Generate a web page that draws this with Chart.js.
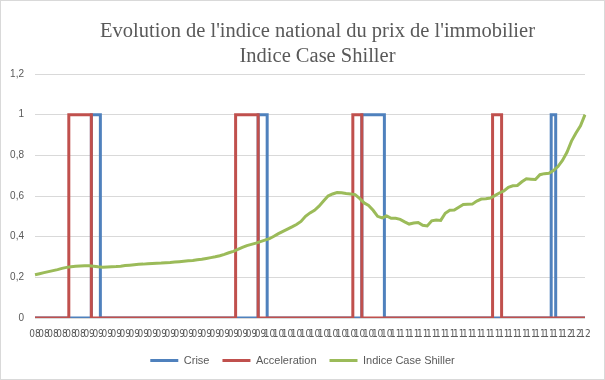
<!DOCTYPE html>
<html>
<head>
<meta charset="utf-8">
<script src="https://cdn.jsdelivr.net/npm/chart.js@4.4.1/dist/chart.umd.min.js"></script>
<style>
  html, body { margin: 0; padding: 0; background: #fff; }
</style>
</head>
<body>
<canvas id="immoChart" width="605" height="380"></canvas>
<script>
// tick labels of the category axis (one every second point)
var tickLabels = [
	'08', '08', '08', '08', '08', '08',
	'09', '09', '09', '09', '09', '09', '09', '09', '09', '09',
	'09', '09', '09', '09', '09', '09', '09', '09', '09', '09',
	'10', '10', '10', '10', '10', '10', '10', '10', '10', '10', '10', '10', '10', '10',
	'11', '11', '11', '11', '11', '11', '11', '11', '11', '11',
	'11', '11', '11', '11', '11', '11', '11', '11', '11',
	'12', '12', '12'
];

var crise = [
	0, 0, 0, 0, 0, 0, 0, 0, 0, 0,
	0, 0, 0, 1, 1, 0, 0, 0, 0, 0,
	0, 0, 0, 0, 0, 0, 0, 0, 0, 0,
	0, 0, 0, 0, 0, 0, 0, 0, 0, 0,
	0, 0, 0, 0, 0, 0, 0, 0, 0, 0,
	1, 1, 0, 0, 0, 0, 0, 0, 0, 0,
	0, 0, 0, 0, 0, 0, 0, 0, 0, 0,
	0, 0, 0, 1, 1, 1, 1, 1, 0, 0,
	0, 0, 0, 0, 0, 0, 0, 0, 0, 0,
	0, 0, 0, 0, 0, 0, 0, 0, 0, 0,
	0, 0, 0, 0, 0, 0, 0, 0, 0, 0,
	0, 0, 0, 0, 0, 1, 0, 0, 0, 0,
	0, 0, 0
];

var acceleration = [
	0, 0, 0, 0, 0, 0, 0, 0, 1, 1,
	1, 1, 1, 0, 0, 0, 0, 0, 0, 0,
	0, 0, 0, 0, 0, 0, 0, 0, 0, 0,
	0, 0, 0, 0, 0, 0, 0, 0, 0, 0,
	0, 0, 0, 0, 0, 1, 1, 1, 1, 1,
	0, 0, 0, 0, 0, 0, 0, 0, 0, 0,
	0, 0, 0, 0, 0, 0, 0, 0, 0, 0,
	0, 1, 1, 0, 0, 0, 0, 0, 0, 0,
	0, 0, 0, 0, 0, 0, 0, 0, 0, 0,
	0, 0, 0, 0, 0, 0, 0, 0, 0, 0,
	0, 0, 1, 1, 0, 0, 0, 0, 0, 0,
	0, 0, 0, 0, 0, 0, 0, 0, 0, 0,
	0, 0, 0
];

var caseShiller = [
	0.213, 0.218, 0.223, 0.228, 0.233, 0.238, 0.244, 0.249, 0.252, 0.254,
	0.256, 0.257, 0.257, 0.255, 0.252, 0.250, 0.251, 0.252, 0.253, 0.255,
	0.258, 0.260, 0.262, 0.264, 0.265, 0.267, 0.268, 0.269, 0.270, 0.272,
	0.273, 0.275, 0.277, 0.279, 0.281, 0.283, 0.286, 0.289, 0.293, 0.297,
	0.301, 0.306, 0.313, 0.321, 0.328, 0.337, 0.347, 0.356, 0.362, 0.368,
	0.376, 0.383, 0.390, 0.402, 0.415, 0.426, 0.437, 0.448, 0.460, 0.475,
	0.500, 0.517, 0.530, 0.550, 0.575, 0.600, 0.610, 0.617, 0.616, 0.612,
	0.610, 0.607, 0.588, 0.566, 0.554, 0.530, 0.500, 0.492, 0.502, 0.490,
	0.490, 0.485, 0.473, 0.462, 0.467, 0.470, 0.456, 0.453, 0.478, 0.482,
	0.480, 0.515, 0.530, 0.531, 0.545, 0.558, 0.559, 0.560, 0.575, 0.585,
	0.587, 0.590, 0.602, 0.615, 0.625, 0.643, 0.650, 0.652, 0.670, 0.685,
	0.683, 0.681, 0.705, 0.710, 0.712, 0.725, 0.745, 0.775, 0.815, 0.870,
	0.910, 0.945, 1.000
];

var categories = caseShiller.map(function(v, i) {
	return i % 2 === 0 ? tickLabels[i / 2] : '';
});

var textGrey = '#595959';

var chartBackground = {
	id: 'chartBackground',
	afterLayout: function(chart) {
		// the title sits a little right of the canvas centre
		if (chart.titleBlock) {
			chart.titleBlock.left += 30;
		}
	},
	beforeDraw: function(chart) {
		var ctx = chart.ctx;
		ctx.save();
		ctx.fillStyle = '#ffffff';
		ctx.fillRect(0, 0, chart.width, chart.height);
		ctx.strokeStyle = '#d9d9d9';
		ctx.lineWidth = 1;
		ctx.strokeRect(0.5, 0.5, chart.width - 1, chart.height - 1);
		ctx.restore();
	}
};

var immoChart = new Chart(document.getElementById('immoChart'), {
	type: 'line',
	data: {
		labels: categories,
		datasets: [{
			label: 'Crise',
			data: crise,
			borderColor: '#4f81bd',
			backgroundColor: '#4f81bd',
			borderWidth: 3,
			stepped: 'middle',
			pointRadius: 0,
			order: 2
		}, {
			label: 'Acceleration',
			data: acceleration,
			borderColor: '#c0504d',
			backgroundColor: '#c0504d',
			borderWidth: 3,
			stepped: 'middle',
			pointRadius: 0,
			order: 1
		}, {
			label: 'Indice Case Shiller',
			data: caseShiller,
			borderColor: '#9bbb59',
			backgroundColor: '#9bbb59',
			borderWidth: 3,
			pointRadius: 0,
			tension: 0,
			order: 0
		}]
	},
	options: {
		responsive: false,
		animation: false,
		layout: {
			padding: { left: 0, right: 0, top: 0, bottom: 4 }
		},
		scales: {
			x: {
				offset: false,
				grid: { display: false, drawTicks: false },
				border: { display: false },
				ticks: {
					autoSkip: false,
					maxRotation: 0,
					minRotation: 0,
					padding: 10,
					color: textGrey,
					font: { family: "'Liberation Sans Narrow', 'DejaVu Sans Condensed', 'Liberation Sans', sans-serif", size: 10 }
				},
				afterFit: function(scale) {
					scale.height = 24;
				}
			},
			y: {
				min: 0,
				max: 1.2,
				grid: { color: '#d9d9d9', drawTicks: false },
				border: { display: false },
				ticks: {
					stepSize: 0.2,
					padding: 11,
					color: textGrey,
					font: { family: "'Liberation Sans', sans-serif", size: 10 },
					callback: function(value) {
						return String(Math.round(value * 10) / 10).replace('.', ',');
					}
				},
				afterFit: function(scale) {
					scale.width = 35;
				}
			},
			// empty right margin so the plot ends where the reference does
			yRight: {
				position: 'right',
				grid: { display: false },
				border: { display: false },
				ticks: { display: false },
				afterFit: function(scale) {
					scale.width = 20;
				}
			}
		},
		plugins: {
			title: {
				display: true,
				text: ["Evolution de l'indice national du prix de l'immobilier", 'Indice Case Shiller'],
				color: textGrey,
				font: { family: "'Liberation Serif', serif", size: 20.5, weight: 'normal', lineHeight: 1.22 },
				padding: { top: 19, bottom: 5 }
			},
			legend: {
				position: 'bottom',
				labels: {
					boxWidth: 28,
					boxHeight: 3,
					padding: 13,
					color: textGrey,
					font: { family: "'Liberation Sans', sans-serif", size: 11 },
					generateLabels: function(chart) {
						var items = Chart.defaults.plugins.legend.labels.generateLabels(chart);
						items.forEach(function(item) {
							item.fillStyle = item.strokeStyle;
							item.lineWidth = 0;
						});
						return items;
					},
					sort: function(a, b) {
						return a.datasetIndex - b.datasetIndex;
					}
				}
			},
			tooltip: { enabled: false }
		}
	},
	plugins: [chartBackground]
});
</script>
</body>
</html>
